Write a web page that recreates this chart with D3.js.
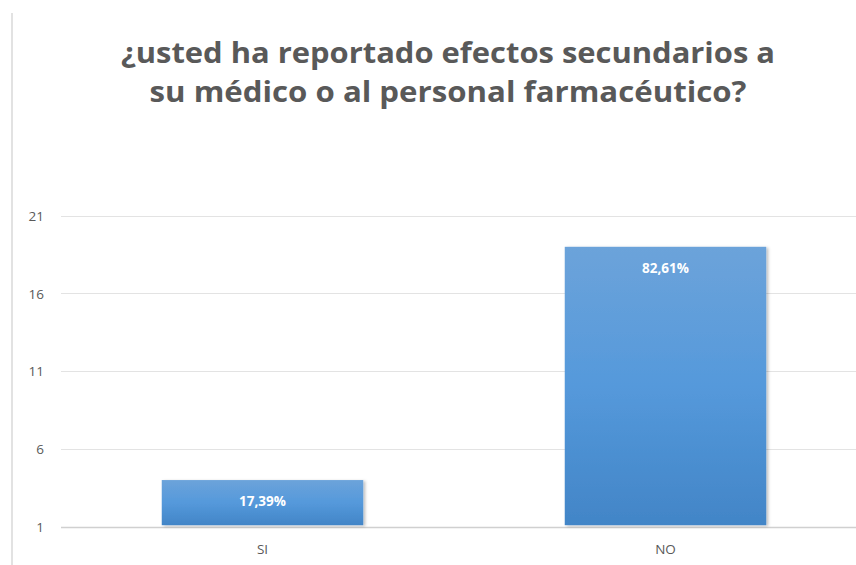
<!DOCTYPE html>
<html><head><meta charset="utf-8">
<script src="https://cdn.jsdelivr.net/npm/d3@7"></script>
<style>body{margin:0;background:#fff}svg{display:block}</style>
</head><body>
<svg id="c" width="856" height="565"></svg>
<script>
const categories = ["SI", "NO"];
const counts = [4, 19];
const percentLabels = ["17,39%", "82,61%"];
const yTicks = [1, 6, 11, 16, 21];
const titleLines = ["¿usted ha reportado efectos secundarios a", "su médico o al personal farmacéutico?"];

const svg = d3.select("#c");
const W = 856, H = 565;
const font = "'Open Sans', Lato, sans-serif";
const gray = "#595959";

const defs = svg.append("defs");
const g = defs.append("linearGradient").attr("id","bg").attr("x1",0).attr("y1",0).attr("x2",0).attr("y2",1);
g.append("stop").attr("offset","0%").attr("stop-color","#6ca3da");
g.append("stop").attr("offset","50%").attr("stop-color","#5599db");
g.append("stop").attr("offset","100%").attr("stop-color","#4285c7");
const f = defs.append("filter").attr("id","sh").attr("x","-10%").attr("y","-10%").attr("width","130%").attr("height","130%");
f.append("feDropShadow").attr("dx",2).attr("dy",1).attr("stdDeviation",1.5).attr("flood-color","#000").attr("flood-opacity",0.25);

// outer frame left line
svg.append("line").attr("x1",12).attr("x2",12).attr("y1",13).attr("y2",H)
  .attr("stroke","#d9d9d9").attr("stroke-width",1.5);

const y = d3.scaleLinear().domain([1, 21]).range([526.7, 215.7]);
const x = d3.scaleBand().domain(categories).range([61, 867]).paddingInner(0.5).paddingOuter(0.25);

// gridlines
svg.append("g").selectAll("line").data(yTicks).join("line")
  .attr("x1",61).attr("x2",W)
  .attr("y1",d=>Math.round(y(d))+0.5).attr("y2",d=>Math.round(y(d))+0.5)
  .attr("stroke",(d,i)=> i===0 ? "#d0d0d0" : "#e3e3e3").attr("stroke-width",d=>d===1?1.5:1.2);

// y axis labels
const yAxis = d3.axisLeft(y).tickValues(yTicks).tickSize(0).tickPadding(0).tickFormat(d3.format("d"));
const ya = svg.append("g").attr("transform","translate(44,0)").call(yAxis);
ya.select(".domain").remove();
ya.selectAll("text").attr("font-family",font).attr("font-size",13.5).attr("fill",gray).attr("dy","0.35em");

// bars
svg.append("g").selectAll("rect").data(categories).join("rect")
  .attr("x",d=>x(d)).attr("width",x.bandwidth())
  .attr("y",(d,i)=>y(counts[i])).attr("height",(d,i)=>y(1)-y(counts[i])-1.5)
  .attr("fill","url(#bg)").attr("filter","url(#sh)");

// value labels
svg.append("g").selectAll("text").data(categories).join("text")
  .attr("x",d=>x(d)+x.bandwidth()/2).attr("y",(d,i)=>y(counts[i])+26)
  .attr("text-anchor","middle").attr("font-family",font).attr("font-size",13.5)
  .attr("font-weight","bold").attr("fill","#fff").text((d,i)=>percentLabels[i]);

// x axis labels
const xAxis = d3.axisBottom(x).tickSize(0).tickPadding(0);
const xa = svg.append("g").attr("transform","translate(0,544)").call(xAxis);
xa.select(".domain").remove();
xa.selectAll("text").attr("font-family",font).attr("font-size",13.5).attr("fill",gray).attr("dy","0.71em");

// title
const titleW = [654, 597];
svg.append("g").selectAll("text").data(titleLines).join("text")
  .attr("x",448).attr("y",(d,i)=>63+i*39).attr("text-anchor","middle")
  .attr("font-family",font).attr("font-size",28.5).attr("font-weight","bold").attr("fill",gray)
  .attr("textLength",(d,i)=>titleW[i]).attr("lengthAdjust","spacingAndGlyphs")
  .text(d=>d);
</script>
</body></html>
